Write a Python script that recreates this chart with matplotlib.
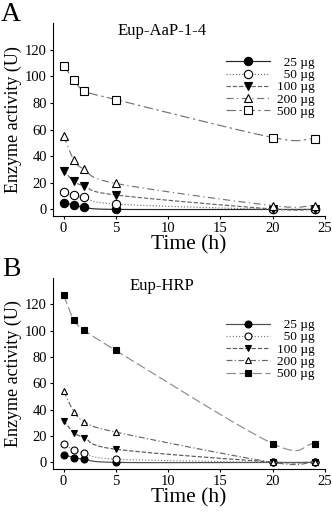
import numpy as np
import matplotlib.pyplot as plt

plt.rcParams['font.family'] = ['Liberation Serif', 'DejaVu Serif']

# datos
t = [0, 1, 2, 5, 20, 24]  # tiempo (h)
# espacios delante para alinear los textos a la derecha
doses = ['  25 µg', '  50 µg', '100 µg', '200 µg', '500 µg']

aap_25 = [5, 3.4, 1.5, 0, 0, 0]
aap_50 = [12.8, 10.7, 9, 4, 0, 0]
aap_100 = [29, 21, 17.5, 10.8, 0.3, 0]
aap_200 = [55, 37, 30, 19.5, 2.8, 2.8]
aap_500 = [108, 97.5, 89, 82.5, 54, 53]

hrp_25 = [5.8, 3.5, 2.5, 0, 0, 0]
hrp_50 = [13.8, 9.5, 7, 2.5, 0, 0]
hrp_100 = [31.5, 22.5, 18.7, 10, 0.3, 0.3]
hrp_200 = [54, 38.5, 31, 23, 0, 0]
hrp_500 = [127, 108, 100.5, 85, 14.2, 14.2]


def curva(x, y, n=40):
    # curva suave tipo Catmull-Rom entre los puntos
    P = np.column_stack([x, y]).astype(float)
    m = len(P)
    T = np.zeros_like(P)
    T[1:-1] = (P[2:] - P[:-2]) / 2
    T[0] = P[1] - P[0]
    T[-1] = P[-1] - P[-2]
    s = np.linspace(0, 1, n)[:, None]
    h00 = 2*s**3 - 3*s**2 + 1; h10 = s**3 - 2*s**2 + s
    h01 = -2*s**3 + 3*s**2; h11 = s**3 - s**2
    seg = [h00*P[i] + h10*T[i] + h01*P[i+1] + h11*T[i+1] for i in range(m - 1)]
    C = np.vstack(seg)
    return C[:, 0], C[:, 1]


def panel(ax, series, styles, title, letter, ms, leg_y):
    for y, lab, (mk, fc, ls, lc) in zip(series, doses, styles):
        xs, ys = curva(t, y)
        ax.plot(xs, ys, color=lc, ls=ls, lw=0.85)
        ax.plot(t, y, ls='none', marker=mk, mfc=fc, mec='k', ms=ms, mew=0.8)
        # entrada de la leyenda (linea + marcador)
        ax.plot([], [], color=lc, ls=ls, lw=0.85, marker=mk, mfc=fc, mec='k',
                ms=ms, mew=0.8, label=lab)
    ax.set_xlim(-1, 25)
    ax.set_ylim(-5, 140)
    ax.set_xticks([0, 5, 10, 15, 20, 25])
    ax.set_yticks([0, 20, 40, 60, 80, 100, 120])
    ax.spines['top'].set_visible(False)
    ax.spines['right'].set_visible(False)
    ax.tick_params(labelsize=10.5, direction='out', length=2.5, width=0.8, pad=2)
    ax.set_xlabel('Time (h)', fontsize=15.5, labelpad=0)
    ax.set_ylabel('Enzyme activity (U)', fontsize=13, labelpad=2)
    ax.text(0.40, 1.0, title, transform=ax.transAxes, ha='center', va='top',
            fontsize=12)
    ax.text(-0.155, 1.012, letter, transform=ax.transAxes, ha='center',
            va='baseline', fontsize=20)
    ax.legend(loc='upper right', bbox_to_anchor=(0.985, leg_y), frameon=False,
              fontsize=9.5, handlelength=3.3, handletextpad=0.5,
              labelspacing=0.0, borderpad=0)


fig = plt.figure(figsize=(3.32, 5.12), dpi=100)
axA = fig.add_axes([0.16, 0.578, 0.819, 0.377])
axB = fig.add_axes([0.16, 0.084, 0.819, 0.373])

stylesA = [('o', 'k', '-', '0.15'),
           ('o', 'w', ':', '0.45'),
           ('v', 'k', '--', '0.4'),
           ('^', 'w', (0, (6, 3, 1, 3)), '0.45'),
           ('s', 'w', (0, (8, 3, 2, 3)), '0.45')]
stylesB = [('o', 'k', '-', '0.3'),
           ('o', 'w', ':', '0.5'),
           ('v', 'k', '--', '0.35'),
           ('^', 'w', (0, (5, 2, 1, 2)), '0.4'),
           ('s', 'k', (0, (8, 3)), '0.55')]

panel(axA, [aap_25, aap_50, aap_100, aap_200, aap_500], stylesA,
      'Eup-AaP-1-4', 'A', 6, 0.86)
panel(axB, [hrp_25, hrp_50, hrp_100, hrp_200, hrp_500], stylesB,
      'Eup-HRP', 'B', 5, 0.82)

plt.savefig('out.png', dpi=100)
